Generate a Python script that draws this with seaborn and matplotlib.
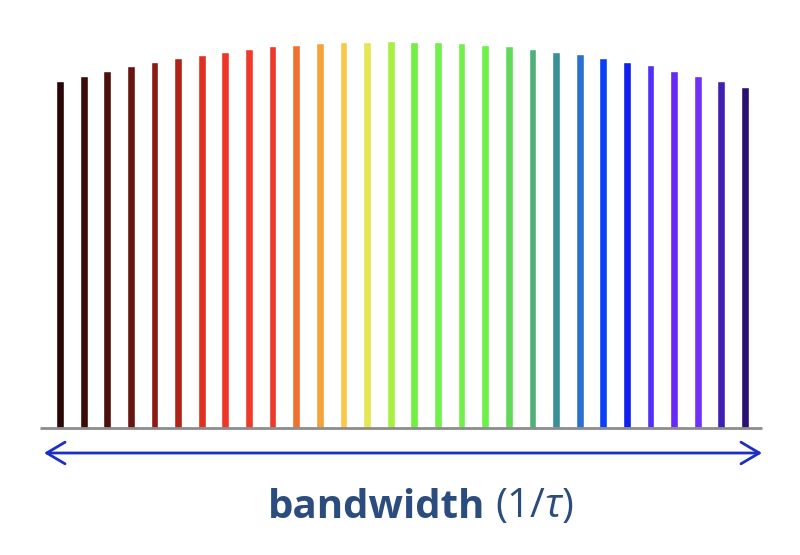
import matplotlib
matplotlib.use("Agg")
import matplotlib.pyplot as plt
import pandas as pd
import seaborn as sns

# bar heights (pixels above the baseline)
heights = [347, 352, 357, 362, 366, 370, 373, 376, 379, 382,
           383, 385, 386, 386, 387, 386, 386, 385, 383, 382,
           379, 376, 374, 370, 366, 363, 357, 352, 347, 341]
colours = ["#2b0505", "#3d0a0a", "#4d0f0c", "#671510", "#8a1c14",
           "#b02418", "#e0301f", "#ee3526", "#ef3a2a", "#ee392a",
           "#f07030", "#f5a23a", "#fac846", "#e6e650", "#a8f040",
           "#70f040", "#70f048", "#70f048", "#6ef048", "#60d858",
           "#50b078", "#3a9098", "#2a70d0", "#0a40f8", "#1020f0",
           "#5030f8", "#6828f8", "#7030f8", "#4020b0", "#2a1070"]
modes = [f"m{i}" for i in range(len(heights))]

df = pd.DataFrame({"mode": modes, "height": heights})

sns.set_theme(style="white")
plt.rcParams["font.family"] = ["Open Sans", "DejaVu Sans"]
plt.rcParams["mathtext.fontset"] = "custom"
plt.rcParams["mathtext.rm"] = "Open Sans"
plt.rcParams["mathtext.it"] = "Open Sans:italic"

fig = plt.figure(figsize=(8, 5.55), dpi=100)
ax = fig.add_axes([0, 0, 1, 1])
sns.barplot(data=df, x="mode", y="height", hue="mode", palette=colours,
            width=0.33, legend=False, ax=ax, saturation=1)

step = 23.62  # pixels per category
ax.set_xlim(-60 / step, 29 + 55 / step)
ax.set_ylim(-127, 428)
ax.axis("off")

px = lambda p: (p - 60) / step
ax.plot([px(40), px(762)], [0, 0], color="#8c8c8c", lw=2, solid_capstyle="butt")
ax.annotate("", xy=(px(44), -25), xytext=(px(762), -25),
            arrowprops=dict(arrowstyle="<->,head_length=1.1,head_width=0.65",
                            color="#1c2fc4", lw=2, shrinkA=0, shrinkB=0))

ax.text(px(485), -79, "bandwidth", ha="right", va="center", fontsize=29,
        fontweight="bold", color="#2b4c7e")
ax.text(px(495), -79, r"(1/$\tau$)", ha="left", va="center", fontsize=29,
        color="#2b4c7e")

fig.savefig("out.png", dpi=100)
